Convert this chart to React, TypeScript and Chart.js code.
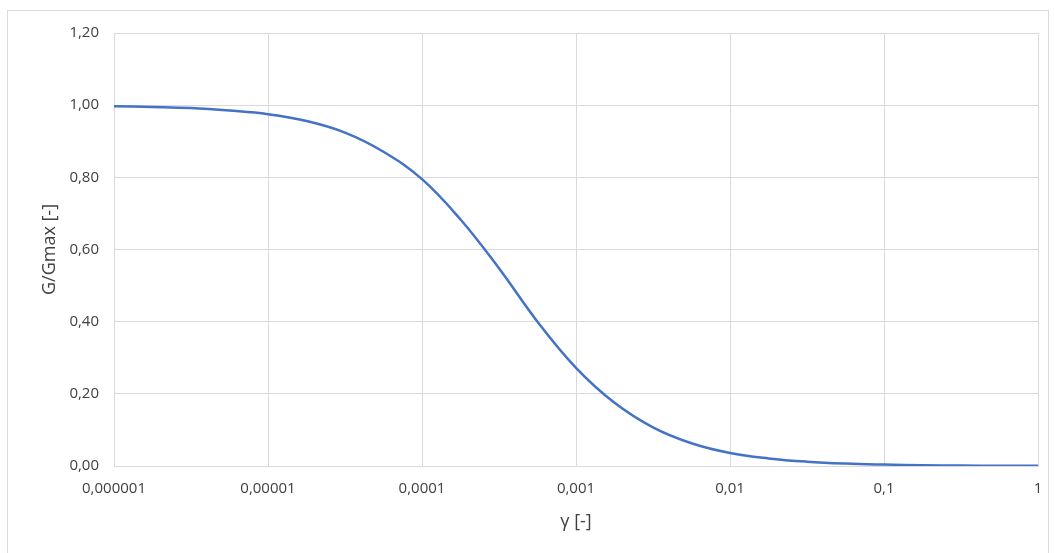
import React, { useEffect, useRef } from "react";
import { Chart, registerables } from "chart.js";

Chart.register(...registerables);

// Shear strain γ [-] (log scale) and normalised shear modulus G/Gmax [-]
const strainValues = [
  1e-6, 1.78e-6, 3.16e-6, 5.62e-6,
  1e-5, 1.78e-5, 3.16e-5, 5.62e-5,
  1e-4, 1.78e-4, 3.16e-4, 5.62e-4,
  1e-3, 1.78e-3, 3.16e-3, 5.62e-3,
  1e-2, 1.78e-2, 3.16e-2, 5.62e-2,
  1e-1, 1.78e-1, 3.16e-1, 5.62e-1,
  1,
];
const modulusRatio = [
  0.997, 0.995, 0.992, 0.985,
  0.975, 0.956, 0.924, 0.871,
  0.795, 0.683, 0.548, 0.40,
  0.272, 0.175, 0.107, 0.063,
  0.036, 0.021, 0.012, 0.0068,
  0.004, 0.0022, 0.0013, 0.0008,
  0.0004,
];

const xTickValues = [1e-6, 1e-5, 1e-4, 1e-3, 1e-2, 1e-1, 1];
const xTickLabels = ["0,000001", "0,00001", "0,0001", "0,001", "0,01", "0,1", "1"];
const yTickValues = [0, 0.2, 0.4, 0.6, 0.8, 1.0, 1.2];
const yTickLabels = ["0,00", "0,20", "0,40", "0,60", "0,80", "1,00", "1,20"];

const xTitle = "γ [-]";
const yTitle = "G/Gmax [-]";

const FONT = "'Open Sans', 'Noto Sans', sans-serif";
const TEXT = "#404040";
const GRID = "#d9d9d9";

export default function App() {
  const canvasRef = useRef<HTMLCanvasElement | null>(null);

  useEffect(() => {
    if (!canvasRef.current) return;
    const points = strainValues.map((x, i) => ({ x, y: modulusRatio[i] }));
    const chart = new Chart(canvasRef.current, {
      type: "line",
      data: {
        datasets: [
          {
            data: points,
            borderColor: "#4472C4",
            borderWidth: 2.5,
            pointRadius: 0,
            fill: false,
            tension: 0.4,
          },
        ],
      },
      options: {
        animation: false,
        responsive: false,
        maintainAspectRatio: false,
        layout: { padding: { left: 0, right: 16, top: 33, bottom: 0 } },
        plugins: { legend: { display: false }, tooltip: { enabled: false } },
        scales: {
          x: {
            type: "logarithmic",
            min: 1e-6,
            max: 1,
            afterBuildTicks: (scale: any) => {
              scale.ticks = xTickValues.map((v) => ({ value: v }));
            },
            afterFit: (scale: any) => {
              scale.height = 87;
              scale.paddingLeft = 0;
              scale.paddingRight = 0;
            },
            ticks: {
              autoSkip: false,
              maxRotation: 0,
              padding: 14,
              color: TEXT,
              font: { family: FONT, size: 15 },
              callback: (value: any) => {
                const idx = xTickValues.findIndex((v) => Math.abs(Math.log10(v) - Math.log10(Number(value))) < 1e-6);
                return idx >= 0 ? xTickLabels[idx] : "";
              },
            },
            grid: { color: GRID, lineWidth: 1, drawTicks: false },
            border: { color: GRID, width: 1 },
            title: {
              display: true,
              text: xTitle,
              color: TEXT,
              font: { family: FONT, size: 18 },
              padding: { top: 0, bottom: 20 },
            },
          },
          y: {
            type: "linear",
            min: 0,
            max: 1.2,
            afterBuildTicks: (scale: any) => {
              scale.ticks = yTickValues.map((v) => ({ value: v }));
            },
            afterFit: (scale: any) => {
              scale.width = 114;
              scale.paddingTop = 0;
              scale.paddingBottom = 0;
            },
            ticks: {
              padding: 15,
              color: TEXT,
              font: { family: FONT, size: 15 },
              callback: (value: any) => {
                const idx = yTickValues.findIndex((v) => Math.abs(v - Number(value)) < 1e-6);
                return idx >= 0 ? yTickLabels[idx] : "";
              },
            },
            grid: { color: GRID, lineWidth: 1, drawTicks: false },
            border: { color: GRID, width: 1 },
            title: {
              display: true,
              text: yTitle,
              color: TEXT,
              font: { family: FONT, size: 18 },
              padding: { top: 39, bottom: 0 },
            },
          },
        },
      },
    });
    return () => chart.destroy();
  }, []);

  return (
    <div style={{ position: "absolute", left: 0, top: 0, width: 1054, height: 553, background: "#fff", overflow: "hidden" }}>
      <div
        style={{
          position: "absolute",
          left: 7,
          top: 10,
          width: 1042,
          height: 560,
          border: "1px solid #d9d9d9",
          boxSizing: "border-box",
        }}
      />
      <canvas ref={canvasRef} width={1054} height={553} style={{ position: "absolute", left: 0, top: 0 }} />
    </div>
  );
}
